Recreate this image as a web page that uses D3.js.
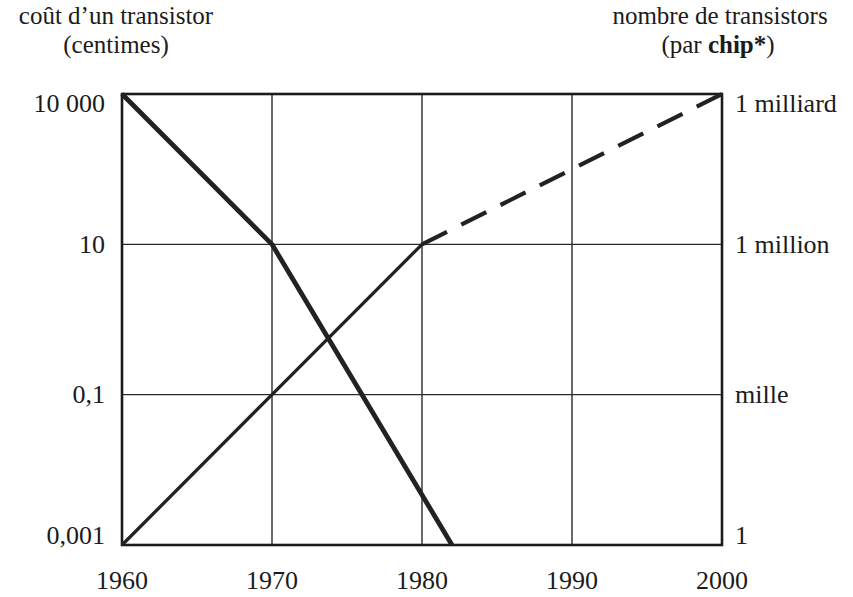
<!DOCTYPE html>
<html>
<head>
<meta charset="utf-8">
<script src="https://cdn.jsdelivr.net/npm/d3@7"></script>
<style>
  body { margin: 0; background: #fff; }
  text { font-family: "Liberation Serif", "DejaVu Serif", serif; fill: #1b1b1b; }
</style>
</head>
<body>
<div class="chart"></div>
<script>
// years on the x axis
var years = [1960, 1970, 1980, 1990, 2000];

// left axis : cost of one transistor (centimes)
var costTicks = [0.001, 0.1, 10, 10000];
var costLabels = ["0,001", "0,1", "10", "10 000"];

// right axis : transistors per chip
var countTicks = [1, 1e3, 1e6, 1e9];
var countLabels = ["1", "mille", "1 million", "1 milliard"];

// series
var costYears = [1960, 1970, 1982];
var costValues = [10000, 10, 0.001];

var countYears = [1960, 1970, 1980];
var countValues = [1, 1000, 1e6];

var countFutureYears = [1980, 2000];
var countFutureValues = [1e6, 1e9];

var margin = {top: 94, right: 131, bottom: 52, left: 122},
    width = 853 - margin.left - margin.right,
    height = 597 - margin.top - margin.bottom;

var fontSize = "26px";

var svg = d3.select(".chart")
    .append("svg")
    .attr("width", 853)
    .attr("height", 597);

var g = svg.append("g")
    .attr("transform", "translate(" + margin.left + "," + margin.top + ")");

var x = d3.scaleLinear()
    .domain([1960, 2000])
    .range([0, width]);

// the left scale is not regular in the original, so piecewise log
var yCost = d3.scaleLog()
    .domain(costTicks)
    .range([height, height * 2 / 3, height / 3, 0]);

var yCount = d3.scaleLog()
    .domain([1, 1e9])
    .range([height, 0]);

// grid
g.selectAll(".vgrid")
    .data(years.slice(1, -1))
    .enter().append("line")
    .attr("x1", x).attr("x2", x)
    .attr("y1", 0).attr("y2", height)
    .attr("stroke", "#2a2a2a")
    .attr("stroke-width", 1.4);

g.selectAll(".hgrid")
    .data(costTicks.slice(1, -1))
    .enter().append("line")
    .attr("x1", 0).attr("x2", width)
    .attr("y1", yCost).attr("y2", yCost)
    .attr("stroke", "#2a2a2a")
    .attr("stroke-width", 1.4);

// frame
g.append("rect")
    .attr("width", width)
    .attr("height", height)
    .attr("fill", "none")
    .attr("stroke", "#1b1b1b")
    .attr("stroke-width", 2.6);

// lines
var costLine = d3.line()
    .x(function(d) { return x(d[0]); })
    .y(function(d) { return yCost(d[1]); });

var countLine = d3.line()
    .x(function(d) { return x(d[0]); })
    .y(function(d) { return yCount(d[1]); });

g.append("path")
    .datum(d3.zip(countYears, countValues))
    .attr("d", countLine)
    .attr("fill", "none")
    .attr("stroke", "#222")
    .attr("stroke-width", 3.3);

g.append("path")
    .datum(d3.zip(countFutureYears, countFutureValues))
    .attr("d", countLine)
    .attr("fill", "none")
    .attr("stroke", "#222")
    .attr("stroke-width", 4.2)
    .attr("stroke-dasharray", "28,15.9");

g.append("path")
    .datum(d3.zip(costYears, costValues))
    .attr("d", costLine)
    .attr("fill", "none")
    .attr("stroke", "#222")
    .attr("stroke-width", 4.8)
    .attr("stroke-linejoin", "round");

// tick labels
g.selectAll(".xlabel")
    .data(years)
    .enter().append("text")
    .attr("x", x)
    .attr("y", height + 44)
    .attr("text-anchor", "middle")
    .attr("font-size", fontSize)
    .text(function(d) { return d; });

function edgeShift(i, n) {
  if (i === 0) return -10;
  if (i === n - 1) return 9;
  return 0;
}

g.selectAll(".ylabel")
    .data(costTicks)
    .enter().append("text")
    .attr("x", -17)
    .attr("y", function(d, i) { return yCost(d) + edgeShift(i, costTicks.length); })
    .attr("dy", "0.33em")
    .attr("text-anchor", "end")
    .attr("font-size", fontSize)
    .text(function(d, i) { return costLabels[i]; });

g.selectAll(".y2label")
    .data(countTicks)
    .enter().append("text")
    .attr("x", width + 13)
    .attr("y", function(d, i) { return yCount(d) + edgeShift(i, countTicks.length); })
    .attr("dy", "0.33em")
    .attr("text-anchor", "start")
    .attr("font-size", fontSize)
    .text(function(d, i) { return countLabels[i]; });

// axis titles (two lines each)
var titleSize = "25px";

svg.append("text")
    .attr("x", 116).attr("y", 24)
    .attr("text-anchor", "middle")
    .attr("font-size", titleSize)
    .text("coût d’un transistor");

svg.append("text")
    .attr("x", 116).attr("y", 53)
    .attr("text-anchor", "middle")
    .attr("font-size", titleSize)
    .text("(centimes)");

svg.append("text")
    .attr("x", 720).attr("y", 24)
    .attr("text-anchor", "middle")
    .attr("font-size", titleSize)
    .text("nombre de transistors");

var t2 = svg.append("text")
    .attr("x", 718).attr("y", 53)
    .attr("text-anchor", "middle")
    .attr("font-size", titleSize);
t2.append("tspan").text("(par ");
t2.append("tspan").attr("font-weight", "bold").text("chip*");
t2.append("tspan").text(")");
</script>
</body>
</html>
